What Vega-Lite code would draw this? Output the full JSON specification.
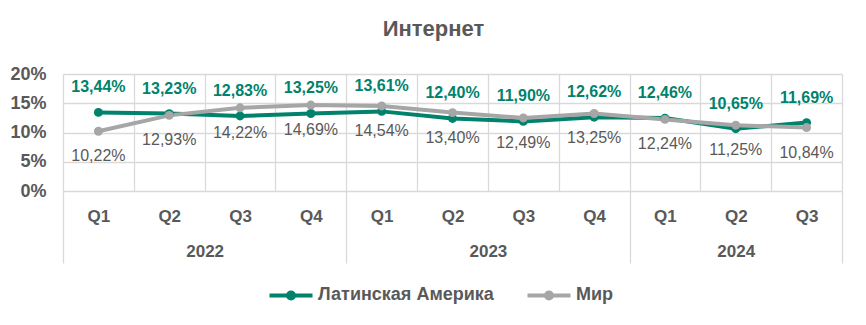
{
  "$schema": "https://vega.github.io/schema/vega-lite/v6.json",
  "width": 779,
  "height": 117,
  "autosize": "none",
  "padding": {"left": 63, "top": 74, "right": 24, "bottom": 134},
  "background": "white",
  "config": {
    "view": {"stroke": null},
    "locale": {"number": {"decimal": ",", "thousands": " ", "grouping": [3], "currency": ["", ""]}},
    "font": "Liberation Sans"
  },
  "title": {"text": "Интернет", "fontSize": 22, "font": "Liberation Sans", "fontWeight": "bold", "color": "#595959", "offset": 24, "dx": -19},
  "data": {"values": [
    {"i": 0, "series": "Латинская Америка", "v": 0.1344},
    {"i": 1, "series": "Латинская Америка", "v": 0.1323},
    {"i": 2, "series": "Латинская Америка", "v": 0.1283},
    {"i": 3, "series": "Латинская Америка", "v": 0.1325},
    {"i": 4, "series": "Латинская Америка", "v": 0.1361},
    {"i": 5, "series": "Латинская Америка", "v": 0.1240},
    {"i": 6, "series": "Латинская Америка", "v": 0.1190},
    {"i": 7, "series": "Латинская Америка", "v": 0.1262},
    {"i": 8, "series": "Латинская Америка", "v": 0.1246},
    {"i": 9, "series": "Латинская Америка", "v": 0.1065},
    {"i": 10, "series": "Латинская Америка", "v": 0.1169},
    {"i": 0, "series": "Мир", "v": 0.1022},
    {"i": 1, "series": "Мир", "v": 0.1293},
    {"i": 2, "series": "Мир", "v": 0.1422},
    {"i": 3, "series": "Мир", "v": 0.1469},
    {"i": 4, "series": "Мир", "v": 0.1454},
    {"i": 5, "series": "Мир", "v": 0.1340},
    {"i": 6, "series": "Мир", "v": 0.1249},
    {"i": 7, "series": "Мир", "v": 0.1325},
    {"i": 8, "series": "Мир", "v": 0.1224},
    {"i": 9, "series": "Мир", "v": 0.1125},
    {"i": 10, "series": "Мир", "v": 0.1084}
  ]},
  "encoding": {
    "y": {"field": "v", "type": "quantitative",
      "scale": {"domain": [0, 0.2], "nice": false},
      "axis": {"title": null, "values": [0, 0.05, 0.1, 0.15, 0.2], "format": ".0%", "domain": false, "ticks": false,
        "grid": true, "gridColor": "#D9D9D9", "gridWidth": 1.3, "labelFontSize": 18, "labelFontWeight": "bold", "labelColor": "#595959", "labelPadding": 17}},
    "color": {"field": "series", "type": "nominal", "scale": {"domain": ["Латинская Америка", "Мир"], "range": ["#00826C", "#A6A6A6"]},
      "legend": {"title": null, "orient": "none", "legendX": 204, "legendY": 197, "direction": "horizontal",
        "symbolType": "M-1,0L1,0M-0.14,0A0.14,0.14 0 1,1 0.14,0A0.14,0.14 0 1,1 -0.14,0",
        "symbolSize": 1850, "symbolStrokeWidth": 4, "labelFontSize": 18, "labelFontWeight": "bold", "labelColor": "#595959",
        "labelOffset": 3, "labelLimit": 400, "columnPadding": 25,
        "encode": {"symbols": {"update": {"fill": {"scale": "color", "field": "value"}, "stroke": {"scale": "color", "field": "value"}, "opacity": {"value": 1}}}}}}
  },
  "layer": [
    {
      "mark": {"type": "line", "strokeWidth": 4},
      "encoding": {
        "x": {"field": "i", "type": "quantitative", "scale": {"domain": [-0.5, 10.5], "nice": false, "zero": false},
          "axis": {"orient": "bottom", "title": null, "values": [0,1,2,3,4,5,6,7,8,9,10], "grid": false, "domain": false, "ticks": false,
            "labelExpr": "['Q1','Q2','Q3','Q4','Q1','Q2','Q3','Q4','Q1','Q2','Q3'][datum.value]",
            "labelFontSize": 17, "labelFontWeight": "bold", "labelColor": "#595959", "labelPadding": 17}}
      }
    },
    {
      "mark": {"type": "point", "filled": true, "size": 80, "opacity": 1},
      "encoding": {
        "x": {"field": "i", "type": "quantitative", "scale": {"domain": [-0.5, 10.5], "nice": false, "zero": false},
          "axis": {"orient": "bottom", "title": null, "values": [-0.5,0.5,1.5,2.5,3.5,4.5,5.5,6.5,7.5,8.5,9.5,10.5], "grid": true, "gridColor": "#D9D9D9", "gridWidth": 1.3,
            "domain": false, "ticks": false, "labels": false}}
      }
    },
    {
      "transform": [{"filter": "datum.series === 'Латинская Америка'"}],
      "mark": {"type": "text", "dy": -25, "fontSize": 16, "fontWeight": "bold"},
      "encoding": {
        "x": {"field": "i", "type": "quantitative", "scale": {"domain": [-0.5, 10.5], "nice": false, "zero": false},
          "axis": {"orient": "bottom", "title": null, "values": [-0.5, 3.5, 7.5, 10.5], "grid": false, "domain": false, "labels": false,
            "ticks": true, "tickSize": 72, "tickColor": "#D9D9D9", "tickWidth": 1.3}},
        "text": {"field": "v", "type": "quantitative", "format": ".2%"},
        "color": {"value": "#00826C"}
      }
    },
    {
      "transform": [{"filter": "datum.series === 'Мир'"}],
      "mark": {"type": "text", "dy": 25, "fontSize": 16},
      "encoding": {
        "x": {"field": "i", "type": "quantitative", "scale": {"domain": [-0.5, 10.5], "nice": false, "zero": false},
          "axis": {"orient": "bottom", "title": null, "values": [1.5, 5.5, 9], "grid": false, "domain": false, "ticks": false,
            "labelExpr": "datum.value < 3 ? '2022' : datum.value < 7 ? '2023' : '2024'",
            "labelFontSize": 17, "labelFontWeight": "bold", "labelColor": "#595959", "labelPadding": 52}},
        "text": {"field": "v", "type": "quantitative", "format": ".2%"},
        "color": {"value": "#595959"}
      }
    }
  ],
  "resolve": {"axis": {"x": "independent"}}
}
